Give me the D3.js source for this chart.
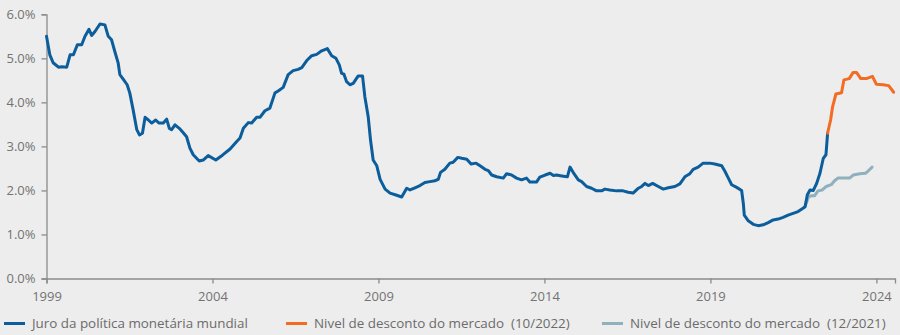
<!DOCTYPE html>
<html>
<head>
<meta charset="utf-8">
<script src="https://cdn.jsdelivr.net/npm/d3@7"></script>
<style>
  html, body { margin: 0; padding: 0; background: #ededed; }
  svg { display: block; }
  text { font-family: "Open Sans", "Noto Sans", sans-serif; }
</style>
</head>
<body>
<svg id="chart" width="900" height="335"></svg>
<script>
// Policy rate (decimal year, %)
const policyYears = [1999.00,1999.10,1999.20,1999.36,1999.46,1999.61,1999.71,1999.81,1999.93,2000.06,2000.16,2000.28,2000.36,2000.46,2000.61,2000.76,2000.86,2000.96,2001.06,2001.16,2001.21,2001.31,2001.43,2001.51,2001.61,2001.72,2001.80,2001.89,2001.97,2002.07,2002.17,2002.29,2002.39,2002.52,2002.62,2002.70,2002.77,2002.87,2003.00,2003.12,2003.22,2003.32,2003.42,2003.60,2003.72,2003.87,2004.10,2004.30,2004.53,2004.73,2004.83,2004.93,2005.08,2005.18,2005.33,2005.43,2005.58,2005.73,2005.88,2006.00,2006.13,2006.28,2006.43,2006.58,2006.69,2006.84,2006.99,2007.14,2007.29,2007.46,2007.59,2007.72,2007.82,2007.89,2007.96,2008.04,2008.14,2008.24,2008.39,2008.52,2008.59,2008.69,2008.76,2008.84,2008.95,2009.05,2009.20,2009.35,2009.55,2009.70,2009.85,2009.95,2010.10,2010.25,2010.40,2010.55,2010.70,2010.80,2010.87,2011.00,2011.15,2011.25,2011.39,2011.51,2011.66,2011.79,2011.94,2012.06,2012.21,2012.31,2012.41,2012.56,2012.76,2012.86,2013.01,2013.16,2013.31,2013.46,2013.56,2013.76,2013.86,2014.02,2014.17,2014.27,2014.37,2014.52,2014.69,2014.77,2014.89,2015.02,2015.12,2015.27,2015.42,2015.57,2015.72,2015.82,2015.97,2016.17,2016.37,2016.52,2016.67,2016.83,2016.93,2017.03,2017.13,2017.26,2017.43,2017.58,2017.73,2017.93,2018.08,2018.23,2018.38,2018.48,2018.63,2018.78,2018.98,2019.13,2019.34,2019.44,2019.54,2019.64,2019.79,2019.94,2019.99,2020.02,2020.14,2020.29,2020.44,2020.59,2020.74,2020.89,2021.04,2021.19,2021.34,2021.49,2021.64,2021.80,2021.85,2021.92,2022.00,2022.10,2022.20,2022.30,2022.40,2022.48,2022.53];
const policyValues = [5.50,5.08,4.90,4.80,4.81,4.80,5.08,5.08,5.31,5.31,5.50,5.66,5.52,5.61,5.78,5.76,5.50,5.42,5.15,4.89,4.63,4.53,4.40,4.21,3.83,3.38,3.26,3.30,3.66,3.60,3.53,3.60,3.53,3.53,3.62,3.41,3.38,3.49,3.41,3.31,3.22,2.96,2.81,2.67,2.69,2.79,2.69,2.80,2.94,3.11,3.19,3.41,3.54,3.53,3.66,3.66,3.81,3.87,4.21,4.27,4.34,4.63,4.72,4.75,4.79,4.95,5.06,5.09,5.17,5.22,5.06,5.00,4.85,4.66,4.64,4.47,4.40,4.43,4.60,4.60,4.13,3.68,3.15,2.69,2.56,2.25,2.03,1.94,1.89,1.85,2.05,2.01,2.06,2.11,2.18,2.20,2.22,2.25,2.41,2.48,2.62,2.64,2.75,2.73,2.71,2.60,2.62,2.56,2.48,2.45,2.35,2.31,2.28,2.38,2.35,2.28,2.24,2.28,2.19,2.19,2.30,2.35,2.39,2.34,2.35,2.33,2.31,2.53,2.38,2.24,2.20,2.09,2.05,1.99,1.99,2.03,2.01,1.99,1.99,1.96,1.94,2.05,2.09,2.16,2.11,2.16,2.09,2.03,2.06,2.09,2.15,2.31,2.38,2.48,2.53,2.62,2.62,2.60,2.56,2.43,2.28,2.13,2.07,2.00,1.71,1.44,1.31,1.23,1.20,1.22,1.27,1.33,1.35,1.39,1.44,1.48,1.52,1.60,1.63,1.90,2.01,2.00,2.16,2.39,2.73,2.81,3.30];

// Market-implied path, 10/2022
const pricing2022Years = [2022.53,2022.62,2022.68,2022.78,2022.95,2023.02,2023.18,2023.30,2023.40,2023.53,2023.70,2023.88,2024.00,2024.20,2024.37,2024.52];
const pricing2022Values = [3.30,3.60,3.90,4.19,4.22,4.51,4.54,4.68,4.68,4.54,4.54,4.59,4.41,4.40,4.38,4.23];

// Market-implied path, 12/2021
const pricing2021Years = [2021.85,2021.96,2022.04,2022.14,2022.24,2022.37,2022.49,2022.64,2022.74,2022.84,2023.04,2023.19,2023.30,2023.50,2023.67,2023.75,2023.87];
const pricing2021Values = [1.63,1.86,1.88,1.88,1.99,2.01,2.09,2.13,2.22,2.28,2.28,2.28,2.35,2.38,2.39,2.44,2.53];

const yTicks = [0, 1, 2, 3, 4, 5, 6];
const xTicks = [1999, 2004, 2009, 2014, 2019, 2024];
const seriesNames = [
  "Juro da política monetária mundial",
  "Nivel de desconto do mercado  (10/2022)",
  "Nivel de desconto do mercado  (12/2021)"
];
const seriesColors = ["#0b5d9b", "#f26c24", "#8fb0bd"];

const svg = d3.select("#chart");
const plotLeft = 46.5, plotRight = 895, plotTop = 14.3, plotBottom = 278.5;

const x = d3.scaleLinear().domain([1999, 2024.56]).range([plotLeft, plotRight]);
const y = d3.scaleLinear().domain([0, 6]).range([plotBottom, plotTop]);

const zip = (xs, vs) => xs.map((d, i) => ({ t: d, v: vs[i] }));

// Axes
const yAxis = svg.append("g")
  .attr("transform", `translate(${plotLeft},0)`)
  .call(d3.axisLeft(y).tickValues(yTicks).tickSize(5).tickPadding(6)
    .tickFormat(d => d3.format(".1f")(d) + "%"));
const xAxis = svg.append("g")
  .attr("transform", `translate(0,${plotBottom})`)
  .call(d3.axisBottom(x).tickValues(xTicks).tickSize(5).tickPadding(8)
    .tickFormat(d3.format("d")));

[yAxis, xAxis].forEach(g => {
  g.select(".domain").attr("stroke", "#8a8a8a").attr("stroke-width", 1.3);
  g.selectAll(".tick line").attr("stroke", "#8a8a8a").attr("stroke-width", 1.3);
  g.selectAll(".tick text").attr("fill", "#737373").style("font-size", "13px")
    .style("font-family", "'Open Sans', 'Noto Sans', sans-serif");
});

// Lines
const line = d3.line().x(d => x(d.t)).y(d => y(d.v));
const plot = svg.append("g").attr("fill", "none")
  .attr("stroke-width", 3).attr("stroke-linejoin", "round").attr("stroke-linecap", "round");

plot.append("path").datum(zip(pricing2021Years, pricing2021Values))
  .attr("stroke", seriesColors[2]).attr("d", line);
plot.append("path").datum(zip(policyYears, policyValues))
  .attr("stroke", seriesColors[0]).attr("d", line);
plot.append("path").datum(zip(pricing2022Years, pricing2022Values))
  .attr("stroke", seriesColors[1]).attr("d", line);

// Legend
const legendX = [4, 286, 602];
const legend = svg.append("g").attr("transform", "translate(0,323.5)");
seriesNames.forEach((name, i) => {
  const g = legend.append("g").attr("transform", `translate(${legendX[i]},0)`);
  g.append("line").attr("x1", 0).attr("x2", 21).attr("y1", 0).attr("y2", 0)
    .attr("stroke", seriesColors[i]).attr("stroke-width", 3);
  g.append("text").attr("x", 28).attr("y", 4.7)
    .attr("fill", "#6b6b6b").style("font-size", "13.4px")
    .style("white-space", "pre").text(name);
});
</script>
</body>
</html>
